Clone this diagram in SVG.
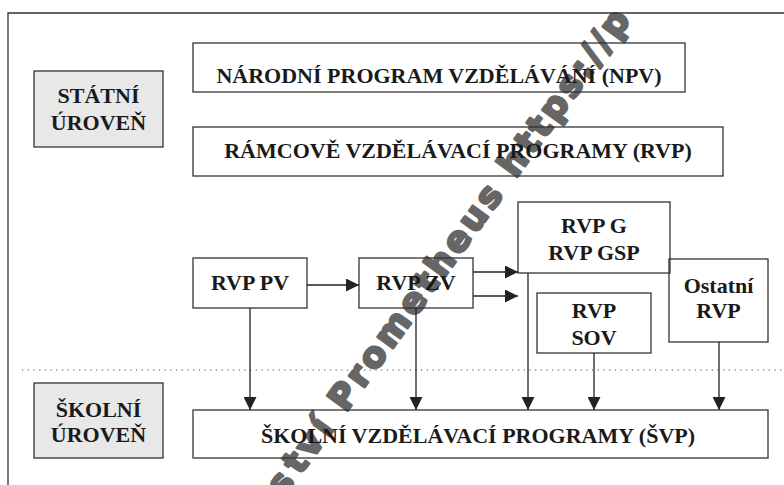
<svg xmlns="http://www.w3.org/2000/svg" width="784" height="485" viewBox="0 0 784 485">
<style>
.box{fill:none;stroke:#333;stroke-width:1.3}
.lvl{fill:#e8e8e8;stroke:#333;stroke-width:1.3}
.t{font-family:"Liberation Serif","Times New Roman",serif;font-weight:bold;font-size:22px;fill:#1a1a1a;text-anchor:middle}
.c{stroke:#222;stroke-width:1.3;fill:none}
.wm{font-family:"DejaVu Sans",Verdana,sans-serif;font-weight:bold;font-size:35px;letter-spacing:3.5px;fill:#666;stroke:#666;stroke-width:2.6;stroke-linejoin:round}
</style>
<defs>
<marker id="ah" markerUnits="userSpaceOnUse" markerWidth="13" markerHeight="13" viewBox="0 0 13 13" refX="13" refY="6.5" orient="auto">
<path d="M0,0 L13,6.5 L0,13 Z" fill="#222"/>
</marker>
</defs>
<rect width="784" height="485" fill="#fff"/>
<g id="watermark" transform="translate(295,462) rotate(-54)">
<text class="wm" x="-8.4" y="12.3" text-anchor="start">tví Prometheus https://p</text>
<text class="wm" x="-11.9" y="12.3" text-anchor="end">s</text>
</g>
<path id="frame" d="M8,485 V13 H784" fill="none" stroke="#333" stroke-width="1.3"/>
<line id="divider" x1="22" y1="370" x2="784" y2="370" stroke="#555" stroke-width="1.2" stroke-dasharray="1.3 4.4"/>
<g id="statni">
<rect class="lvl" x="34" y="71" width="129" height="76"/>
<text class="t" x="98.5" y="103">STÁTNÍ</text>
<text class="t" x="98.5" y="130">ÚROVEŇ</text>
</g>
<g id="skolni">
<rect class="lvl" x="34" y="383" width="129" height="75"/>
<text class="t" x="98.5" y="417">ŠKOLNÍ</text>
<text class="t" x="98.5" y="442">ÚROVEŇ</text>
</g>
<g id="npv">
<rect class="box" x="193" y="43" width="492" height="49"/>
<text class="t" x="439" y="83">NÁRODNÍ PROGRAM VZDĚLÁVÁNÍ (NPV)</text>
</g>
<g id="rvp">
<rect class="box" x="193" y="127" width="530" height="49"/>
<text class="t" x="458" y="158">RÁMCOVĚ VZDĚLÁVACÍ PROGRAMY (RVP)</text>
</g>
<g id="rvp-pv">
<rect class="box" x="193" y="258" width="114" height="50"/>
<text class="t" x="250" y="290">RVP PV</text>
</g>
<g id="rvp-zv">
<rect class="box" x="359" y="258" width="114" height="50"/>
<text class="t" x="416" y="290">RVP ZV</text>
</g>
<g id="rvp-g">
<rect class="box" x="518" y="202" width="152" height="71"/>
<text class="t" x="594" y="233">RVP G</text>
<text class="t" x="594" y="260">RVP GSP</text>
</g>
<g id="rvp-sov">
<rect class="box" x="537" y="293" width="114" height="60"/>
<text class="t" x="594" y="318">RVP</text>
<text class="t" x="594" y="345">SOV</text>
</g>
<g id="ostatni">
<rect class="box" x="669" y="259" width="99" height="83"/>
<text class="t" x="718.5" y="293">Ostatní</text>
<text class="t" x="718.5" y="318">RVP</text>
</g>
<g id="svp">
<rect class="box" x="193" y="410" width="575" height="48"/>
<text class="t" x="478" y="443">ŠKOLNÍ VZDĚLÁVACÍ PROGRAMY (ŠVP)</text>
</g>
<g id="connectors">
<line class="c" x1="307" y1="285" x2="359" y2="285" marker-end="url(#ah)"/>
<line class="c" x1="473" y1="272" x2="518" y2="272" marker-end="url(#ah)"/>
<line class="c" x1="473" y1="296" x2="518" y2="296" marker-end="url(#ah)"/>
<line class="c" x1="250" y1="308" x2="250" y2="410" marker-end="url(#ah)"/>
<line class="c" x1="416" y1="308" x2="416" y2="410" marker-end="url(#ah)"/>
<line class="c" x1="528" y1="273" x2="528" y2="410" marker-end="url(#ah)"/>
<line class="c" x1="594" y1="353" x2="594" y2="410" marker-end="url(#ah)"/>
<line class="c" x1="719" y1="342" x2="719" y2="410" marker-end="url(#ah)"/>
</g>
</svg>
